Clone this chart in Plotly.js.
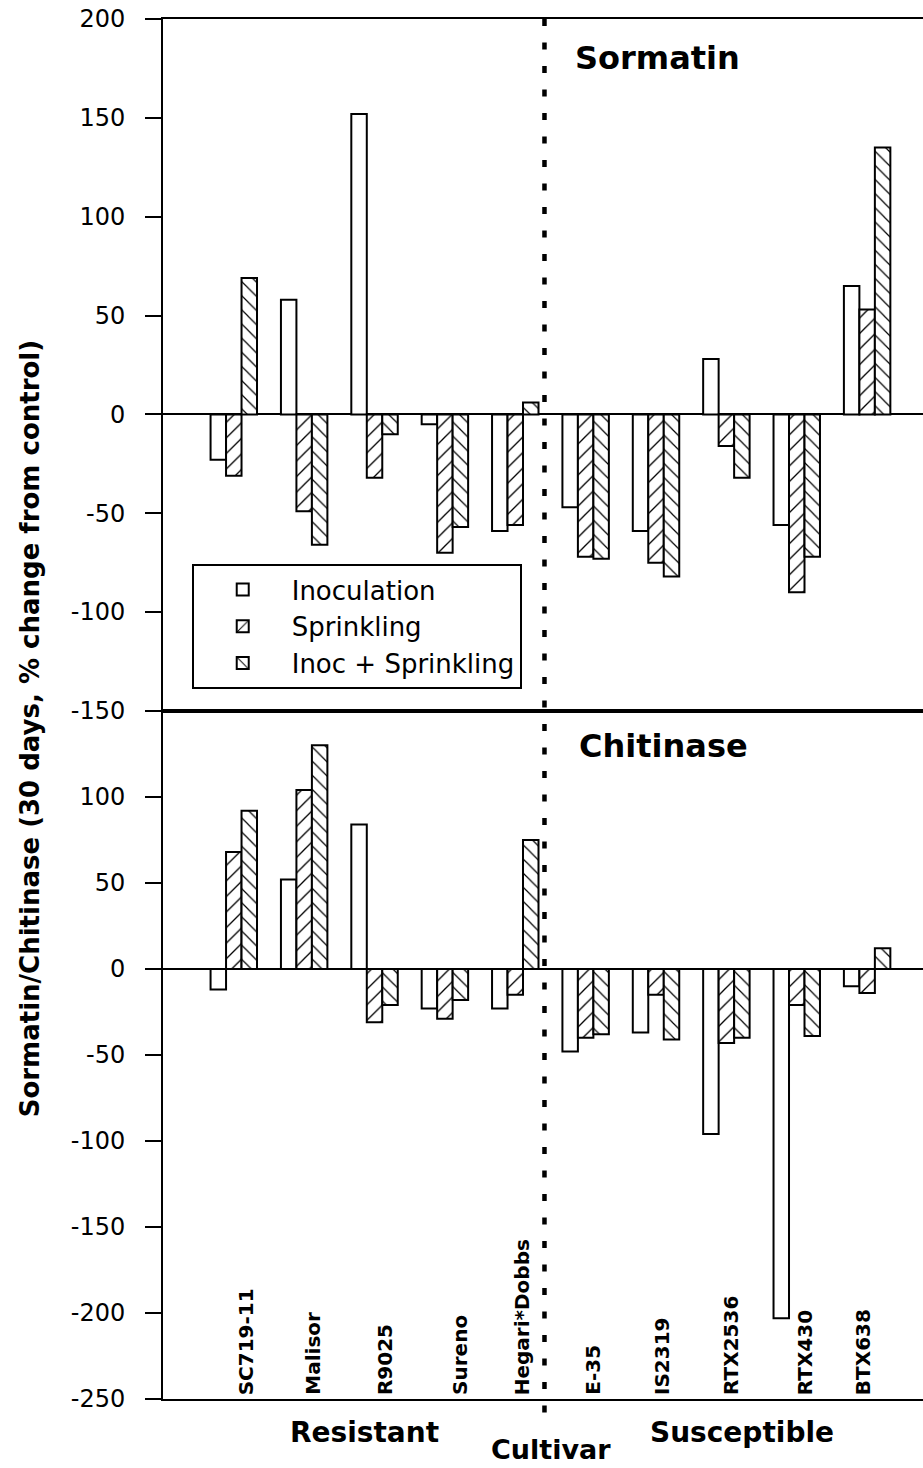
<!DOCTYPE html>
<html>
<head>
<meta charset="utf-8">
<script src="https://cdn.plot.ly/plotly-3.0.1.min.js"></script>
<style>
  html, body { margin: 0; padding: 0; background: #ffffff; }
  #chart { width: 923px; height: 1468px; }
</style>
</head>
<body>
<div id="chart"></div>
<script>
// ---------- data ----------
const cultivars = ['SC719-11', 'Malisor', 'R9025', 'Sureno', 'Hegari*Dobbs',
                   'E-35', 'IS2319', 'RTX2536', 'RTX430', 'BTX638'];
const seriesNames = ['Inoculation', 'Sprinkling', 'Inoc + Sprinkling'];

// Sormatin (% change from control, 30 days)
const sormatinInoc        = [-23, 58, 152, -5, -59, -47, -59, 28, -56, 65];
const sormatinSprinkling  = [-31, -49, -32, -70, -56, -72, -75, -16, -90, 53];
const sormatinInocSprink  = [69, -66, -10, -57, 6, -73, -82, -32, -72, 135];

// Chitinase (% change from control, 30 days)
const chitinaseInoc       = [-12, 52, 84, -23, -23, -48, -37, -96, -203, -10];
const chitinaseSprinkling = [68, 104, -31, -29, -15, -40, -15, -43, -21, -14];
const chitinaseInocSprink = [92, 130, -21, -18, 75, -38, -41, -40, -39, 12];

const panelTitles = ['Sormatin', 'Chitinase'];
const groupLabels = ['Resistant', 'Susceptible'];
const xTitle = 'Cultivar';
const yTitle = 'Sormatin/Chitinase (30 days, % change from control)';
const topTicks = [-150, -100, -50, 0, 50, 100, 150, 200];
const bottomTicks = [-250, -200, -150, -100, -50, 0, 50, 100];

// ---------- styling ----------
const FONT = 'DejaVu Sans';
const patterns = [
  null,
  {shape: '/', size: 11, solidity: 0.12, fgcolor: '#000', bgcolor: '#fff'},
  {shape: '\\', size: 10, solidity: 0.12, fgcolor: '#000', bgcolor: '#fff'}
];
// small horizontal offsets of the rotated cultivar labels (px)
const labelShift = [12, 8, 10, 15, 7, 7, 6, 4, 8, -4];

function barTrace(name, idx, values, xa, ya, showLegend) {
  const marker = {color: '#ffffff', line: {color: '#000000', width: 2}};
  if (patterns[idx]) marker.pattern = patterns[idx];
  return {
    type: 'bar', name: name, x: cultivars, y: values,
    xaxis: xa, yaxis: ya, marker: marker,
    legendgroup: name, showlegend: showLegend, hoverinfo: 'skip'
  };
}

const topSeries = [sormatinInoc, sormatinSprinkling, sormatinInocSprink];
const botSeries = [chitinaseInoc, chitinaseSprinkling, chitinaseInocSprink];
const traces = [];
topSeries.forEach((s, i) => traces.push(barTrace(seriesNames[i], i, s, 'x', 'y', true)));
botSeries.forEach((s, i) => traces.push(barTrace(seriesNames[i], i, s, 'x2', 'y2', false)));

const split = 0.4986;
const xRange = [-1.006, 9.794];

const yCommon = {
  showline: true, linecolor: '#000', linewidth: 2,
  ticks: 'outside', ticklen: 16, tickwidth: 2, tickcolor: '#000',
  ticklabelstandoff: 15,
  showgrid: false, zeroline: true, zerolinecolor: '#000', zerolinewidth: 2,
  tickfont: {family: FONT, size: 24, color: '#000'},
  tickmode: 'array', fixedrange: true
};

const annotations = [];
// panel titles
annotations.push({text: '<b>' + panelTitles[0] + '</b>', xref: 'paper', yref: 'paper',
  x: 0.5395, y: 0.972, xanchor: 'left', yanchor: 'middle', showarrow: false,
  font: {family: FONT, size: 32, color: '#000'}});
annotations.push({text: '<b>' + panelTitles[1] + '</b>', xref: 'paper', yref: 'paper',
  x: 0.5443, y: 0.4733, xanchor: 'left', yanchor: 'middle', showarrow: false,
  font: {family: FONT, size: 32, color: '#000'}});
// rotated cultivar labels inside bottom panel
cultivars.forEach((c, i) => annotations.push({
  text: '<b>' + c + '</b>', x: c, y: -250, xref: 'x2', yref: 'y2',
  xanchor: 'center', yanchor: 'bottom', textangle: -90, showarrow: false,
  xshift: labelShift[i], yshift: 2,
  font: {family: FONT, size: 20, color: '#000'}
}));
// group labels and axis title
annotations.push({text: '<b>' + groupLabels[0] + '</b>', xref: 'paper', yref: 'paper',
  x: (364 - 163) / 760, y: -0.0245, xanchor: 'center', yanchor: 'middle', showarrow: false,
  font: {family: FONT, size: 28, color: '#000'}});
annotations.push({text: '<b>' + groupLabels[1] + '</b>', xref: 'paper', yref: 'paper',
  x: (742 - 163) / 760, y: -0.0245, xanchor: 'center', yanchor: 'middle', showarrow: false,
  font: {family: FONT, size: 28, color: '#000'}});
annotations.push({text: '<b>' + xTitle + '</b>', xref: 'paper', yref: 'paper',
  x: (551 - 163) / 760, y: -0.0365, xanchor: 'center', yanchor: 'middle', showarrow: false,
  font: {family: FONT, size: 27, color: '#000'}});
annotations.push({text: '<b>' + yTitle + '</b>', xref: 'paper', yref: 'paper',
  x: (30 - 163) / 760, y: 0.486, xanchor: 'center', yanchor: 'middle', textangle: -90,
  showarrow: false, font: {family: FONT, size: 26, color: '#000'}});

const layout = {
  width: 923, height: 1468,
  margin: {l: 163, r: 0, t: 19, b: 69, pad: 0},
  paper_bgcolor: '#fff', plot_bgcolor: '#fff',
  barmode: 'group', bargap: 0.34, bargroupgap: 0,
  showlegend: true,
  legend: {
    x: 0.0378, y: 0.605, xanchor: 'left', yanchor: 'top',
    bgcolor: '#fff', bordercolor: '#000', borderwidth: 2,
    font: {family: FONT, size: 26, color: '#000'},
    itemwidth: 88, tracegroupgap: 0, traceorder: 'normal'
  },
  xaxis: {
    domain: [0, 1], anchor: 'y', type: 'category', range: xRange,
    showline: true, mirror: true, linecolor: '#000', linewidth: 2,
    ticks: '', showticklabels: false, showgrid: false, zeroline: false, fixedrange: true
  },
  yaxis: Object.assign({}, yCommon, {
    domain: [split, 1], anchor: 'x', range: [-150, 200],
    tickvals: topTicks, ticktext: topTicks.map(String)
  }),
  xaxis2: {
    domain: [0, 1], anchor: 'y2', type: 'category', range: xRange,
    showline: true, mirror: true, linecolor: '#000', linewidth: 2,
    ticks: '', showticklabels: false, showgrid: false, zeroline: false, fixedrange: true
  },
  yaxis2: Object.assign({}, yCommon, {
    domain: [0, split], anchor: 'x2', range: [-250, 150],
    tickvals: bottomTicks, ticktext: bottomTicks.map(String)
  }),
  shapes: [{
    type: 'line', xref: 'x', yref: 'paper', x0: 4.415, x1: 4.415, y0: 1, y1: -0.016,
    line: {color: '#000', width: 4.5, dash: '7px,16.5px'}
  }],
  annotations: annotations
};

Plotly.newPlot('chart', traces, layout, {displayModeBar: false, staticPlot: true});
</script>
</body>
</html>
